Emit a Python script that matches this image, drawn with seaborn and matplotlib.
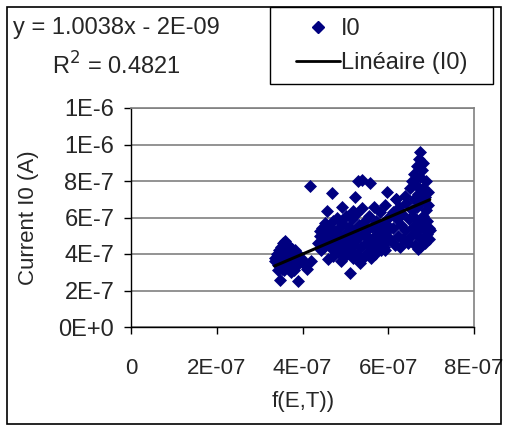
import matplotlib

matplotlib.use("Agg")
import matplotlib.pyplot as plt
import numpy as np
import pandas as pd
import seaborn as sns
from matplotlib.lines import Line2D
from matplotlib.patches import Rectangle

# values in units of 1e-7
SCALE = 1e-7
f_et = [
    3.35, 3.37, 3.40, 3.42, 3.45, 3.47, 3.50, 3.52, 3.55, 3.57, 3.60, 3.62, 3.65,
    3.67, 3.70, 3.72, 3.75, 3.77, 3.80, 3.83, 3.85, 3.88, 3.90, 3.93, 3.96, 4.00,
    4.05, 4.10, 4.20, 3.47, 3.89, 3.58, 3.73, 3.62, 3.53, 3.44, 3.68, 3.81,
    4.18,
    4.68, 5.22, 5.30, 4.58, 4.93, 5.18, 4.40, 4.76, 5.38, 5.57, 5.96, 6.19,
    4.35, 4.40, 4.42, 4.45, 4.48, 4.50, 4.52, 4.55, 4.58, 4.60, 4.62, 4.65, 4.68,
    4.70, 4.72, 4.75, 4.78, 4.80, 4.82, 4.85, 4.88, 4.90, 4.92, 4.95, 4.98, 5.00,
    5.02, 5.05, 5.08, 5.10, 5.10, 5.12, 5.15, 5.18, 5.20, 5.22, 5.25, 5.28, 5.30,
    5.32, 5.35, 5.36, 5.38, 5.40, 5.42, 5.45, 5.48, 5.50, 5.52, 5.55, 5.58, 5.60,
    5.62, 5.64, 5.66, 5.68, 5.70, 5.72, 5.75, 5.78, 5.80, 5.82, 5.85, 5.88, 5.90,
    5.92, 5.95, 5.98, 6.00, 6.02,
    6.05, 6.10, 6.12, 6.15, 6.18, 6.20, 6.22, 6.25, 6.27, 6.30, 6.32, 6.35, 6.38,
    6.40, 6.42, 6.45, 6.48, 6.50, 6.52, 6.55, 6.55, 6.58, 6.60, 6.60, 6.62, 6.62,
    6.65, 6.65, 6.68, 6.68, 6.70, 6.70, 6.72, 6.72, 6.74, 6.75, 6.75, 6.78, 6.78,
    6.80, 6.80, 6.82, 6.82, 6.85, 6.85, 6.87, 6.88, 6.90, 6.90, 6.92, 6.92, 6.95,
    6.95, 6.97, 6.74, 5.92,
]
current_i0 = [
    3.8, 3.6, 4.0, 3.4, 4.2, 3.7, 4.4, 3.9, 4.6, 3.5, 4.7, 4.1, 3.8,
    4.5, 3.3, 4.0, 4.3, 3.6, 3.9, 4.2, 3.4, 3.7, 4.0, 3.5, 3.8, 3.6,
    3.4, 3.2, 3.6, 2.6, 2.5, 3.1, 3.0, 3.3, 3.2, 3.1, 3.5, 3.1,
    7.7,
    7.35, 7.15, 8.0, 6.35, 6.55, 6.35, 5.25, 5.2, 8.05, 7.9, 7.4, 7.0,
    4.6, 5.0, 4.2, 5.4, 4.8, 4.4, 5.7, 5.1, 4.6, 3.7, 5.5, 4.9, 4.3,
    5.8, 3.9, 5.2, 4.6, 6.0, 4.1, 5.4, 4.8, 3.6, 5.7, 4.4, 5.1, 3.9,
    6.1, 4.7, 5.5, 2.95, 4.2, 5.0, 5.9, 3.8, 4.5, 5.3, 6.2, 4.0, 4.9,
    5.6, 3.5, 4.4, 6.5, 5.1, 3.8, 5.8, 4.6, 5.3, 4.1, 6.1, 4.8, 3.8,
    5.5, 4.4, 6.6, 5.0, 4.0, 5.8, 4.6, 5.3, 6.3, 4.2, 5.0, 5.7, 4.4,
    6.7, 5.2, 4.7, 6.0, 5.5,
    4.8, 6.3, 5.4, 4.5, 7.0, 5.9, 5.0, 6.6, 4.4, 5.6, 6.2, 4.8, 7.2,
    5.3, 6.8, 4.6, 5.9, 7.6, 5.0, 6.4, 8.0, 5.5, 7.0, 8.4, 4.5, 6.0,
    7.8, 5.2, 8.8, 6.6, 4.3, 7.3, 9.2, 5.7, 9.6, 8.2, 4.9, 6.9, 8.6,
    6.1, 7.6, 9.0, 5.4, 4.6, 7.1, 6.4, 8.0, 5.1, 5.8, 7.4, 6.7, 5.4,
    4.8, 5.3, 4.4, 4.2,
]
slope = 1.0038
intercept = -2e-9
r_squared = 0.4821

y_ticks = [0, 2e-7, 4e-7, 6e-7, 8e-7, 1e-6, 1.2e-6]
y_tick_labels = ["0E+0", "2E-7", "4E-7", "6E-7", "8E-7", "1E-6", "1E-6"]
x_ticks = [0, 2e-7, 4e-7, 6e-7, 8e-7]
x_tick_labels = ["0", "2E-07", "4E-07", "6E-07", "8E-07"]

df = pd.DataFrame({"x": np.array(f_et) * SCALE, "y": np.array(current_i0) * SCALE})
x_fit = np.array([df["x"].min(), df["x"].max()])
fit = pd.DataFrame({"x": x_fit, "y": slope * x_fit + intercept})

sns.set_style("white")
plt.rcParams["font.family"] = ["Liberation Sans", "DejaVu Sans"]

W, H = 507, 426
fig = plt.figure(figsize=(W / 100, H / 100), dpi=100)
ax = fig.add_axes([131 / W, 1 - 327 / H, (474 - 131) / W, (327 - 108) / H])

navy = "#000080"
sns.scatterplot(data=df, x="x", y="y", ax=ax, marker="D", s=44, color=navy,
                edgecolor=navy, linewidth=0, zorder=3)
sns.lineplot(data=fit, x="x", y="y", ax=ax, color="black", linewidth=2.2, zorder=4)

ax.set_xlim(0, 8e-7)
ax.set_ylim(0, 1.2e-6)
ax.set_xticks(x_ticks)
ax.set_xticklabels(x_tick_labels, fontsize=16)
ax.set_yticks(y_ticks)
ax.set_yticklabels(y_tick_labels, fontsize=17)
ax.yaxis.grid(True, color="#808080", linewidth=1.2)
ax.tick_params(axis="both", direction="out", length=5, width=1, color="black",
               left=True, bottom=True)
ax.tick_params(axis="x", pad=17)
ax.tick_params(axis="y", pad=7)
for side in ["left", "bottom"]:
    ax.spines[side].set_color("black")
    ax.spines[side].set_linewidth(1)
for side in ["top", "right"]:
    ax.spines[side].set_color("#808080")
    ax.spines[side].set_linewidth(1.2)

ax.set_xlabel("f(E,T))", fontsize=16)
ax.set_ylabel("Current I0 (A)", fontsize=16)
ax.xaxis.set_label_coords(0.501, (327 - 401) / 219, transform=ax.transAxes)
ax.yaxis.set_label_coords((28 - 131) / 343, 0.5, transform=ax.transAxes)
ax.xaxis.label.set_va("center")
ax.yaxis.label.set_va("center")

fig.text(13 / W, 1 - 28 / H, "y = 1.0038x - 2E-09", fontsize=17, va="center")
fig.text(52 / W, 1 - 66 / H, f"R$^2$ = {r_squared}", fontsize=17, va="center")

# legend box
fig.patches.append(Rectangle((270 / W, 1 - 84 / H), (493 - 270) / W, (84 - 7) / H,
                             transform=fig.transFigure, fill=False,
                             edgecolor="black", linewidth=1))
handles = [
    Line2D([], [], marker="D", linestyle="none", color=navy, markersize=6.5),
    Line2D([], [], color="black", linewidth=2),
]
leg = fig.legend(handles, ["I0", "Linéaire (I0)"], loc="upper left",
                 bbox_to_anchor=(296 / W, 1 - 18 / H), fontsize=17,
                 frameon=False, borderpad=0, borderaxespad=0,
                 handlelength=1.86, handletextpad=0.05, labelspacing=0.5)

# chart border
fig.patches.append(Rectangle((7 / W, 1 - 424 / H), (501 - 7) / W, (424 - 7) / H,
                             transform=fig.transFigure, fill=False,
                             edgecolor="black", linewidth=1.2))

fig.savefig("out.png", dpi=100)
